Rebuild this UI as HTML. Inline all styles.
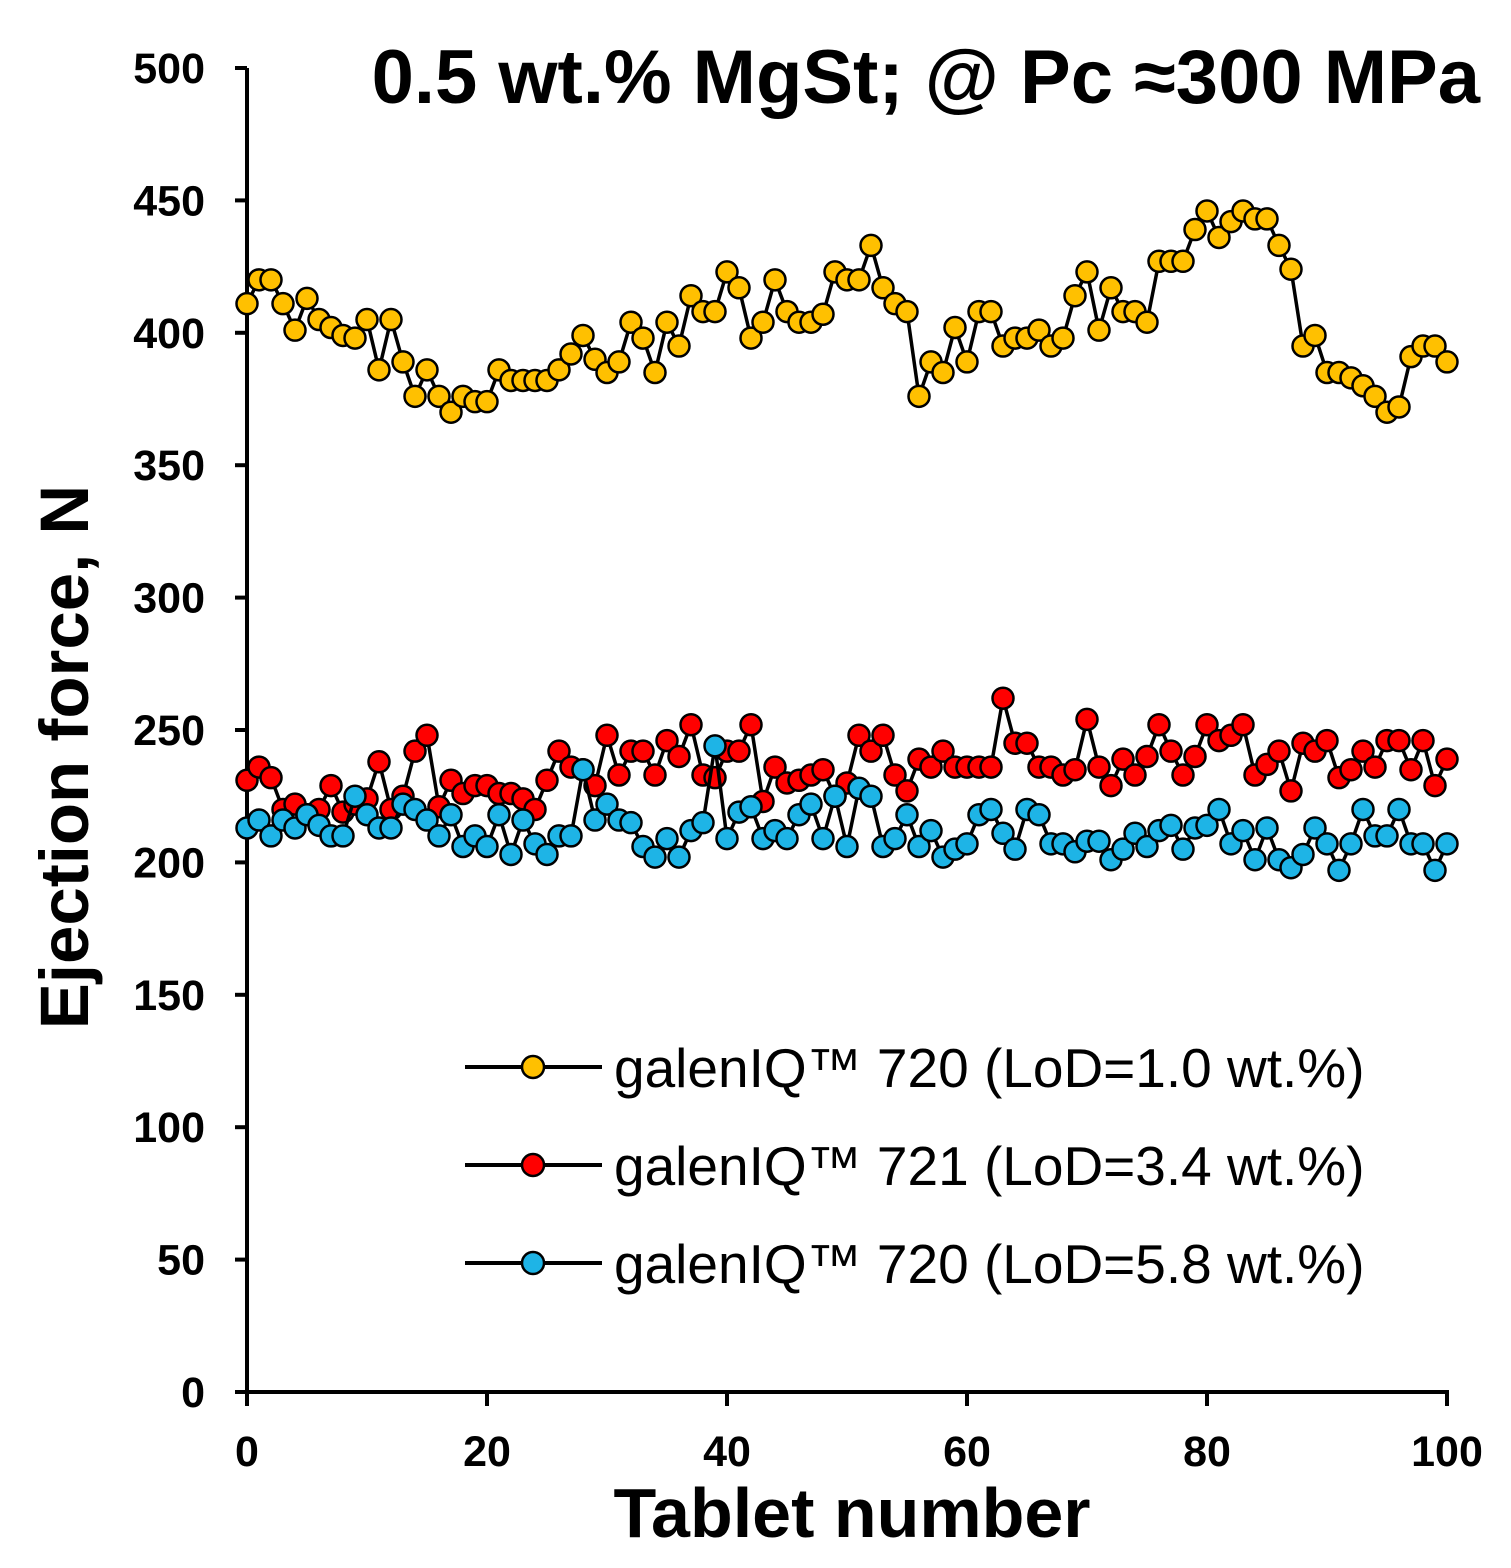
<!DOCTYPE html>
<html><head><meta charset="utf-8"><style>
html,body{margin:0;padding:0;background:#fff;}
svg{display:block;font-family:"Liberation Sans",Arial,sans-serif;}
</style></head><body>
<svg id="chart" width="1511" height="1568" viewBox="0 0 1511 1568" xmlns="http://www.w3.org/2000/svg">
<text x="1480" y="103" text-anchor="end" font-size="76" font-weight="bold">0.5 wt.% MgSt; @ Pc ≈300 MPa</text>
<text transform="translate(88,757) rotate(-90)" text-anchor="middle" font-size="69" font-weight="bold">Ejection force, N</text>
<text x="852" y="1537" text-anchor="middle" font-size="70" font-weight="bold">Tablet number</text>
<g id="axes"></g>
<g id="series"></g>
<g id="legend"></g>
</svg>
<script>
const xTicks = [0,20,40,60,80,100];
const yTicks = [0,50,100,150,200,250,300,350,400,450,500];
const seriesNames = ["galenIQ\u2122  720 (LoD=1.0 wt.%)","galenIQ\u2122  721 (LoD=3.4 wt.%)","galenIQ\u2122  720 (LoD=5.8 wt.%)"];
const gold = [411,420,420,411,401,413,405,402,399,398,405,386,405,389,376,386,376,370,376,374,374,386,382,382,382,382,386,392,399,390,385,389,404,398,385,404,395,414,408,408,423,417,398,404,420,408,404,404,407,423,420,420,433,417,411,408,376,389,385,402,389,408,408,395,398,398,401,395,398,414,423,401,417,408,408,404,427,427,427,439,446,436,442,446,443,443,433,424,395,399,385,385,383,380,376,370,372,391,395,395,389];
const red = [231,236,232,220,222,218,220,229,219,222,224,238,220,225,242,248,221,231,226,229,229,226,226,224,220,231,242,236,235,229,248,233,242,242,233,246,240,252,233,232,242,242,252,223,236,230,231,233,235,225,230,248,242,248,233,227,239,236,242,236,236,236,236,262,245,245,236,236,233,235,254,236,229,239,233,240,252,242,233,240,252,246,248,252,233,237,242,227,245,242,246,232,235,242,236,246,246,235,246,229,239];
const blue = [213,216,210,216,213,218,214,210,210,225,218,213,213,222,220,216,210,218,206,210,206,218,203,216,207,203,210,210,235,216,222,216,215,206,202,209,202,212,215,244,209,219,221,209,212,209,218,222,209,225,206,228,225,206,209,218,206,212,202,205,207,218,220,211,205,220,218,207,207,204,208,208,201,205,211,206,212,214,205,213,214,220,207,212,201,213,201,198,203,213,207,197,207,220,210,210,220,207,207,197,207];
const colors = ["#FFC000","#FF0000","#1EB4E6"];
const NS="http://www.w3.org/2000/svg";
const L=247,R=1447,T=68,B=1392;
const xs=v=>L+(v-0)/(100-0)*(R-L);
const ys=v=>B-(v-0)/(500-0)*(B-T);
function mk(tag,attrs,parent){const e=document.createElementNS(NS,tag);for(const k in attrs)e.setAttribute(k,attrs[k]);parent.appendChild(e);return e;}
const axes=document.getElementById('axes');
let a=mk('line',{x1:L,y1:T,x2:L,y2:B+2,stroke:'#000','stroke-width':4},axes);


a=mk('line',{x1:L-2,y1:B,x2:R+2,y2:B,stroke:'#000','stroke-width':4},axes);


yTicks.forEach(v=>{
  const t=mk('line',{x1:L-12,y1:ys(v),x2:L,y2:ys(v),stroke:'#000','stroke-width':4},axes);
  
  
  const tx=mk('text',{x:205,y:ys(v)+15,'text-anchor':'end','font-size':43,'font-weight':'bold'},axes);
  tx.textContent=v;
  
  
});
xTicks.forEach(v=>{
  const t=mk('line',{x1:xs(v),y1:B,x2:xs(v),y2:B+14,stroke:'#000','stroke-width':4},axes);
  
  
  const tx=mk('text',{x:xs(v),y:1466,'text-anchor':'middle','font-size':43,'font-weight':'bold'},axes);
  tx.textContent=v;
  
  
});
const sg=document.getElementById('series');
[gold,red,blue].forEach((arr,si)=>{
  const g=mk('g',{},sg);
  
  
  const pts=arr.map((v,i)=>xs(i)+','+ys(v)).join(' ');
  const pl=mk('polyline',{points:pts,fill:'none',stroke:'#000','stroke-width':3.5},g);
  
  
  arr.forEach((v,i)=>{
    const c=mk('circle',{cx:xs(i),cy:ys(v),r:10.5,fill:colors[si],stroke:'#000','stroke-width':2.5},g);
    
    
  });
});
const lg=document.getElementById('legend');
const legY=[1067,1165,1263];
seriesNames.forEach((n,i)=>{
  const g=mk('g',{},lg);
  
  
  mk('line',{x1:465,y1:legY[i],x2:602,y2:legY[i],stroke:'#000','stroke-width':4},g);
  mk('circle',{cx:533,cy:legY[i],r:11,fill:colors[i],stroke:'#000','stroke-width':2.5},g);
  const t=mk('text',{x:614,y:legY[i]+20,'font-size':55},g);
  t.textContent=n;
  
  
});
</script>
</body></html>
